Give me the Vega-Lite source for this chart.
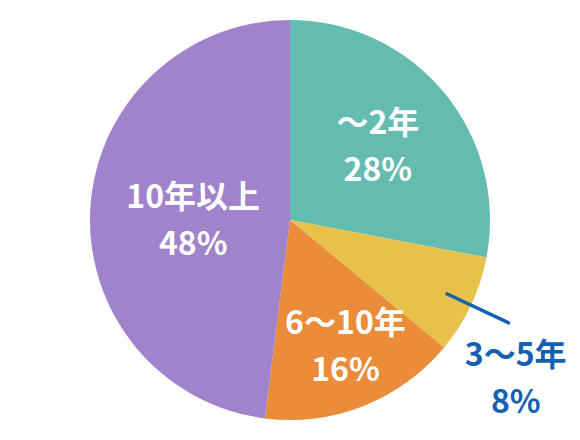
{
  "$schema": "https://vega.github.io/schema/vega-lite/v6.json",
  "width": 580,
  "height": 440,
  "padding": 0,
  "autosize": {"type": "fit", "contains": "padding"},
  "background": "white",
  "data": {
    "values": [
      {"category": "〜2年", "value": 28},
      {"category": "3〜5年", "value": 8},
      {"category": "6〜10年", "value": 16},
      {"category": "10年以上", "value": 48}
    ]
  },
  "transform": [
    {"window": [{"op": "sum", "field": "value", "as": "end"}], "frame": [null, 0]},
    {"calculate": "datum.end - datum.value", "as": "start"},
    {"calculate": "(datum.start + datum.end) / 2", "as": "mid"},
    {"calculate": "[datum.category, datum.value + '%']", "as": "label"}
  ],
  "encoding": {
    "theta": {"field": "start", "type": "quantitative", "scale": {"domain": [0, 100], "range": [0, 6.2832]}}
  },
  "layer": [
    {
      "mark": {"type": "arc", "outerRadius": 200, "stroke": null},
      "encoding": {
        "theta2": {"field": "end"},
        "color": {
          "field": "category",
          "type": "nominal",
          "scale": {
            "domain": ["〜2年", "3〜5年", "6〜10年", "10年以上"],
            "range": ["#64BCB0", "#E7C14A", "#EB8C3A", "#A083CB"]
          },
          "legend": null
        }
      }
    },
    {
      "transform": [{"filter": "datum.category == '3〜5年'"}],
      "mark": {"type": "arc", "radius": 243, "radius2": 172, "fillOpacity": 0, "stroke": "#1560B0", "strokeWidth": 3.5},
      "encoding": {
        "theta": {"field": "mid", "type": "quantitative"},
        "theta2": {"field": "mid"}
      }
    },
    {
      "transform": [{"filter": "datum.category == '〜2年'"}],
      "mark": {"type": "text", "radius": 114, "dy": -23.5, "font": "Noto Sans CJK JP", "fontWeight": "bold", "fontSize": 32, "lineHeight": 47, "color": "white", "baseline": "middle", "align": "center"},
      "encoding": {
        "theta": {"field": "mid", "type": "quantitative"},
        "text": {"field": "label"}
      }
    },
    {
      "transform": [{"filter": "datum.category == '6〜10年'"}],
      "mark": {"type": "text", "radius": 137, "dx": 5, "dy": -23.5, "font": "Noto Sans CJK JP", "fontWeight": "bold", "fontSize": 32, "lineHeight": 47, "color": "white", "baseline": "middle", "align": "center"},
      "encoding": {
        "theta": {"field": "mid", "type": "quantitative"},
        "text": {"field": "label"}
      }
    },
    {
      "transform": [{"filter": "datum.category == '10年以上'"}],
      "mark": {"type": "text", "radius": 97, "dy": -15.5, "font": "Noto Sans CJK JP", "fontWeight": "bold", "fontSize": 32, "lineHeight": 47, "color": "white", "baseline": "middle", "align": "center"},
      "encoding": {
        "theta": {"field": "mid", "type": "quantitative"},
        "text": {"field": "label"}
      }
    },
    {
      "transform": [{"filter": "datum.category == '3〜5年'"}],
      "mark": {"type": "text", "radius": 276, "dx": -24, "dy": 18.5, "font": "Noto Sans CJK JP", "fontWeight": "bold", "fontSize": 32, "lineHeight": 47, "color": "#1560B0", "baseline": "middle", "align": "center"},
      "encoding": {
        "theta": {"field": "mid", "type": "quantitative"},
        "text": {"field": "label"}
      }
    }
  ],
  "config": {
    "view": {"stroke": null}
  }
}
